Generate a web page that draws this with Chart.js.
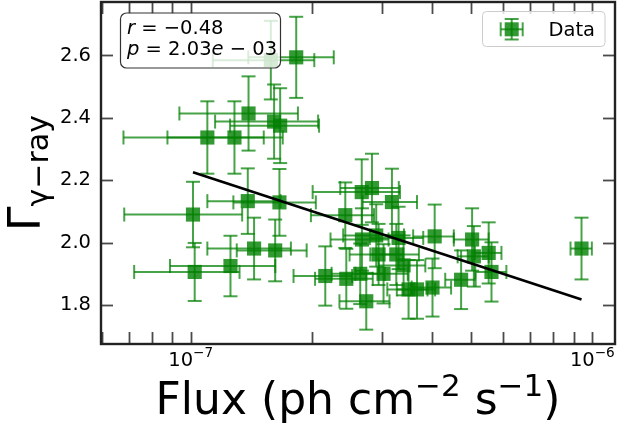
<!DOCTYPE html>
<html>
<head>
<meta charset="utf-8">
<script src="https://cdn.jsdelivr.net/npm/chart.js@4.4.1/dist/chart.umd.min.js"></script>
<style>
  html, body { margin: 0; padding: 0; background: #fff; }
  #wrap { width: 618px; height: 435px; }
</style>
</head>
<body>
<div id="wrap"><canvas id="fluxIndexChart" width="618" height="435"></canvas></div>
<script>
// photon flux (ph cm^-2 s^-1) and its 1-sigma error
const flux = [
  1.100e-7, 1.285e-7, 1.393e-7, 1.613e-7, 1.670e-7, 1.831e-7, 1.583e-7,
  1.013e-7, 1.387e-7, 1.663e-7, 1.023e-7, 1.256e-7, 1.438e-7, 1.623e-7,
  2.666e-7, 2.827e-7, 3.170e-7, 2.426e-7, 2.669e-7, 2.897e-7, 3.293e-7,
  2.163e-7, 2.440e-7, 2.643e-7, 2.736e-7, 2.936e-7, 3.250e-7, 3.021e-7,
  3.389e-7, 3.487e-7, 3.660e-7,
  4.050e-7, 5.020e-7, 5.520e-7, 5.070e-7, 5.610e-7, 4.713e-7, 4.000e-7, 9.400e-7
];
const fluxErr = [
  4.20e-8, 4.10e-8, 4.56e-8, 4.63e-8, 4.17e-8, 4.40e-8, 4.48e-8,
  3.30e-8, 2.87e-8, 3.86e-8, 3.00e-8, 3.68e-8, 3.38e-8, 3.21e-8,
  6.54e-8, 4.70e-8, 4.90e-8, 4.34e-8, 4.40e-8, 5.00e-8, 5.00e-8,
  3.60e-8, 4.00e-8, 4.00e-8, 3.90e-8, 4.50e-8, 4.50e-8, 4.50e-8,
  4.50e-8, 4.00e-8, 4.00e-8,
  4.70e-8, 5.00e-8, 4.20e-8, 4.50e-8, 5.00e-8, 4.10e-8, 4.50e-8, 5.74e-8
];
// gamma-ray photon index and its error
const gamma = [
  2.337, 2.337, 2.414, 2.388, 2.375, 2.594, 2.585,
  2.090, 2.133, 2.129, 1.906, 1.925, 1.981, 1.975,
  2.162, 2.175, 2.130, 2.088, 2.010, 2.023, 2.015,
  1.893, 1.884, 1.900, 1.812, 1.962, 1.962, 1.900,
  1.927, 1.850, 1.850,
  2.020, 2.010, 1.967, 1.956, 1.906, 1.881, 1.856, 1.981
];
const gammaErr = [
  0.116, 0.116, 0.119, 0.119, 0.120, 0.130, 0.126,
  0.105, 0.105, 0.107, 0.093, 0.097, 0.099, 0.099,
  0.105, 0.110, 0.107, 0.105, 0.100, 0.100, 0.100,
  0.095, 0.096, 0.097, 0.091, 0.098, 0.098, 0.095,
  0.096, 0.094, 0.094,
  0.102, 0.100, 0.098, 0.097, 0.095, 0.094, 0.093, 0.099
];

// linear fit Gamma = a + b * log10(flux)
const fitSlope = -0.422;
const fitIntercept = -0.726;
const corrText = ['r', ' = \u22120.48'];
const pText = ['p', ' = 2.03', 'e', ' \u2212 03'];

const xMajorTicks = [1e-7, 1e-6];
const xMajorExp = ['\u22127', '\u22126'];
const xMinorTicks = [6e-8, 7e-8, 8e-8, 9e-8, 2e-7, 3e-7, 4e-7, 5e-7, 6e-7, 7e-7, 8e-7, 9e-7];
const yTicks = [1.8, 2.0, 2.2, 2.4, 2.6];
const yTickLabels = ['1.8', '2.0', '2.2', '2.4', '2.6'];

const FONT = '"DejaVu Sans", sans-serif';
const GREEN = 'rgba(0,128,0,0.8)';
const BAR_GREEN = 'rgba(0,128,0,0.72)';
const CAP = 7;

const fitX = [Math.min(...flux), Math.max(...flux)];
const fitLine = fitX.map(v => ({ x: v, y: fitIntercept + fitSlope * Math.log10(v) }));

function seg(ctx, x0, y0, x1, y1) {
  ctx.beginPath();
  ctx.moveTo(x0, y0);
  ctx.lineTo(x1, y1);
  ctx.stroke();
}

function drawErrorCross(ctx, px, py, x0, x1, y0, y1) {
  seg(ctx, x0, py, x1, py);
  seg(ctx, px, y0, px, y1);
  seg(ctx, x0, py - CAP, x0, py + CAP);
  seg(ctx, x1, py - CAP, x1, py + CAP);
  seg(ctx, px - CAP, y0, px + CAP, y0);
  seg(ctx, px - CAP, y1, px + CAP, y1);
}

function roundBox(ctx, x, y, w, h, r, fill, stroke, lw) {
  ctx.beginPath();
  ctx.roundRect(x, y, w, h, r);
  ctx.fillStyle = fill;
  ctx.fill();
  ctx.lineWidth = lw;
  ctx.strokeStyle = stroke;
  ctx.stroke();
}

// draws runs of text, even entries in italic
function mixedText(ctx, parts, x, y, size) {
  parts.forEach((t, i) => {
    ctx.font = (i % 2 === 0 ? 'italic ' : '') + size + 'px ' + FONT;
    ctx.fillText(t, x, y);
    x += ctx.measureText(t).width;
  });
}

const errorBars = {
  id: 'errorBars',
  beforeDatasetsDraw(chart) {
    const { ctx, chartArea: a, scales: { x, y } } = chart;
    ctx.save();
    ctx.beginPath();
    ctx.rect(a.left, a.top, a.right - a.left, a.bottom - a.top);
    ctx.clip();
    ctx.strokeStyle = BAR_GREEN;
    ctx.lineWidth = 2;
    flux.forEach((f, i) => {
      drawErrorCross(ctx,
        x.getPixelForValue(f), y.getPixelForValue(gamma[i]),
        x.getPixelForValue(f - fluxErr[i]), x.getPixelForValue(f + fluxErr[i]),
        y.getPixelForValue(gamma[i] - gammaErr[i]), y.getPixelForValue(gamma[i] + gammaErr[i]));
    });
    ctx.restore();
  }
};

const frame = {
  id: 'frame',
  afterDatasetsDraw(chart) {
    const { ctx, chartArea: a, scales: { x, y } } = chart;
    const TL = 12;
    ctx.save();

    // inward ticks on all four sides
    ctx.strokeStyle = '#4a4a4a';
    ctx.lineWidth = 1.8;
    [...xMajorTicks, ...xMinorTicks].forEach(v => {
      const px = Math.round(x.getPixelForValue(v)) + 0.5;
      seg(ctx, px, a.bottom, px, a.bottom - TL);
      seg(ctx, px, a.top, px, a.top + TL);
    });
    yTicks.forEach(v => {
      const py = Math.round(y.getPixelForValue(v)) + 0.5;
      seg(ctx, a.left, py, a.left + TL, py);
      seg(ctx, a.right, py, a.right - TL, py);
    });

    // spines
    ctx.strokeStyle = '#222';
    ctx.lineWidth = 2.4;
    ctx.strokeRect(a.left, a.top, a.right - a.left, a.bottom - a.top);

    // x tick labels 10^n
    ctx.fillStyle = '#000';
    ctx.textBaseline = 'alphabetic';
    xMajorTicks.forEach((v, i) => {
      const px = x.getPixelForValue(v);
      ctx.font = '19.5px ' + FONT;
      const wb = ctx.measureText('10').width;
      ctx.font = '13.6px ' + FONT;
      const we = ctx.measureText(xMajorExp[i]).width;
      const x0 = px - (wb + we) / 2;
      ctx.font = '19.5px ' + FONT;
      ctx.fillText('10', x0, 366);
      ctx.font = '13.6px ' + FONT;
      ctx.fillText(xMajorExp[i], x0 + wb, 357);
    });

    // x axis title with superscripts
    const xParts = [['Flux (ph cm', 0], ['\u22122', 1], [' s', 0], ['\u22121', 1], [')', 0]];
    const big = 44, small = 31;
    let total = 0;
    xParts.forEach(([t, sup]) => {
      ctx.font = (sup ? small : big) + 'px ' + FONT;
      total += ctx.measureText(t).width;
    });
    let cx = (a.left + a.right) / 2 - total / 2;
    xParts.forEach(([t, sup]) => {
      ctx.font = (sup ? small : big) + 'px ' + FONT;
      ctx.fillText(t, cx, sup ? 396 : 414);
      cx += ctx.measureText(t).width;
    });

    // y axis title, Gamma with subscript, rotated
    ctx.save();
    ctx.translate(0, (a.top + a.bottom) / 2);
    ctx.rotate(-Math.PI / 2);
    ctx.font = big + 'px ' + FONT;
    const wG = ctx.measureText('\u0393').width;
    ctx.font = '30px ' + FONT;
    const wS = ctx.measureText('\u03b3\u2212ray').width;
    const s0 = -(wG + wS) / 2;
    ctx.font = big + 'px ' + FONT;
    ctx.fillText('\u0393', s0, 40);
    ctx.font = '30px ' + FONT;
    ctx.fillText('\u03b3\u2212ray', s0 + wG, 48);
    ctx.restore();

    // correlation box
    roundBox(ctx, 120.5, 13, 160, 55, 6, 'rgba(255,255,255,0.8)', '#333', 1.2);
    ctx.fillStyle = '#000';
    mixedText(ctx, corrText, 127, 34, 19.5);
    mixedText(ctx, pText, 127, 55, 19.5);

    // legend
    roundBox(ctx, 482.5, 11.5, 122.5, 35, 4, 'rgba(255,255,255,0.8)', '#ccc', 1);
    ctx.strokeStyle = BAR_GREEN;
    ctx.lineWidth = 2;
    drawErrorCross(ctx, 511.7, 29.3, 500.7, 522.7, 39.5, 19);
    ctx.fillStyle = GREEN;
    ctx.fillRect(511.7 - 7, 29.3 - 7, 14, 14);
    ctx.fillStyle = '#000';
    ctx.font = '19.5px ' + FONT;
    ctx.fillText('Data', 548.5, 35.5);

    ctx.restore();
  }
};

const ctx = document.getElementById('fluxIndexChart').getContext('2d');
const chart = new Chart(ctx, {
  type: 'scatter',
  data: {
    datasets: [
      {
        type: 'line',
        label: 'Fit',
        data: fitLine,
        borderColor: '#000',
        borderWidth: 2.6,
        pointRadius: 0,
        fill: false,
        order: 0
      },
      {
        label: 'Data',
        data: flux.map((f, i) => ({ x: f, y: gamma[i] })),
        pointStyle: 'rect',
        pointRadius: 10,
        pointHoverRadius: 10,
        backgroundColor: GREEN,
        borderColor: 'rgba(0,0,0,0)',
        borderWidth: 0,
        order: 1
      }
    ]
  },
  options: {
    responsive: false,
    animation: false,
    devicePixelRatio: 1,
    layout: { autoPadding: false, padding: { top: 2, right: 3, left: 0, bottom: 0 } },
    plugins: {
      legend: { display: false },
      tooltip: { enabled: false }
    },
    scales: {
      x: {
        type: 'logarithmic',
        min: 5.978e-8,
        max: 1.139e-6,
        grid: { display: false },
        border: { display: false },
        ticks: { display: false },
        afterFit(scale) {
          scale.height = 91;
          scale.paddingLeft = 0;
          scale.paddingRight = 0;
        }
      },
      y: {
        type: 'linear',
        min: 1.675,
        max: 2.7714,
        grid: { display: false, drawTicks: false },
        border: { display: false },
        afterBuildTicks(scale) {
          scale.ticks = yTicks.map(v => ({ value: v }));
        },
        ticks: {
          padding: 10,
          color: '#000',
          font: { family: 'DejaVu Sans', size: 19.5 },
          callback: (v) => yTickLabels[yTicks.indexOf(v)]
        },
        afterFit(scale) {
          scale.width = 101;
          scale.paddingTop = 0;
          scale.paddingBottom = 0;
        }
      }
    }
  },
  plugins: [errorBars, frame]
});
</script>
</body>
</html>
